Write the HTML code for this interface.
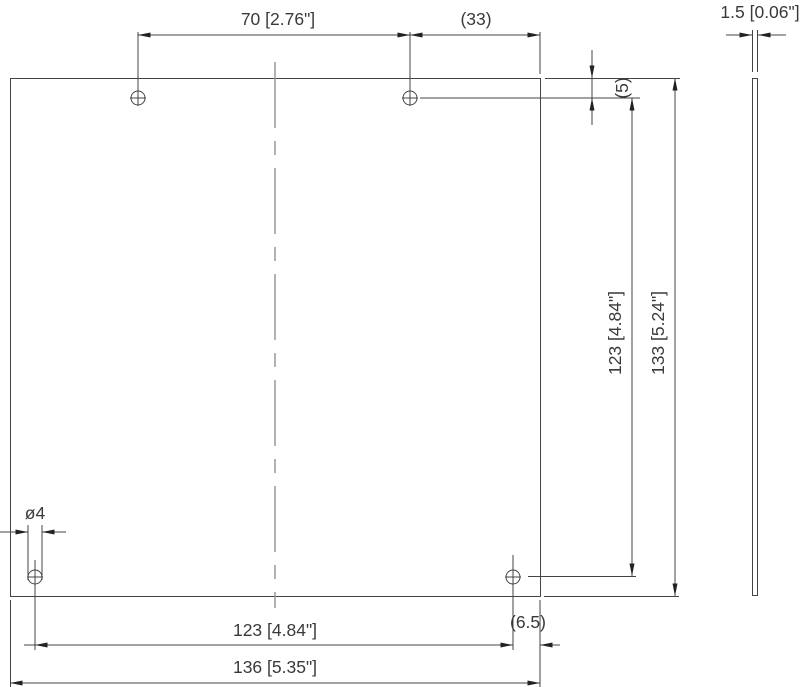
<!DOCTYPE html>
<html><head><meta charset="utf-8"><style>
html,body{margin:0;padding:0;background:#fff;}
svg{display:block;}
text{font-family:"Liberation Sans",sans-serif;font-size:17.5px;fill:#3a3a3a;}
</style></head><body>
<svg width="800" height="687" viewBox="0 0 800 687" xmlns="http://www.w3.org/2000/svg">
<defs>
<marker id="a" viewBox="0 0 10 4" refX="10" refY="2" markerWidth="14" markerHeight="5" markerUnits="userSpaceOnUse" orient="auto-start-reverse"><path d="M0,0 L10,2 L0,4 Z" fill="#222"/></marker>
</defs>
<g stroke="#444" stroke-width="1" fill="none">
<rect x="10.5" y="78.5" width="530" height="518"/>
<line x1="275" y1="62" x2="275" y2="608" stroke="#999" stroke-width="1.5" stroke-dasharray="66 13 14 13"/>
<circle cx="138" cy="98" r="7"/><circle cx="410" cy="98" r="7"/>
<circle cx="35" cy="577" r="7"/><circle cx="513" cy="577" r="7"/>
<line x1="138" y1="32" x2="138" y2="106"/><line x1="130" y1="98" x2="146" y2="98"/>
<line x1="410" y1="32" x2="410" y2="106"/><line x1="402" y1="98" x2="418" y2="98"/>
<line x1="35" y1="560" x2="35" y2="650"/><line x1="27" y1="577" x2="43" y2="577"/>
<line x1="513" y1="555" x2="513" y2="650"/><line x1="505" y1="577" x2="521" y2="577"/>
<line x1="138" y1="35" x2="410" y2="35" marker-start="url(#a)" marker-end="url(#a)"/>
<line x1="410" y1="35" x2="540" y2="35" marker-start="url(#a)" marker-end="url(#a)"/>
<line x1="540" y1="32" x2="540" y2="74"/>
<line x1="545" y1="78.5" x2="680" y2="78.5"/>
<line x1="420" y1="98" x2="640" y2="98"/>
<line x1="528" y1="576.5" x2="636" y2="576.5"/>
<line x1="544" y1="596.5" x2="679" y2="596.5"/>
<line x1="592" y1="50" x2="592" y2="78" marker-end="url(#a)"/>
<line x1="592" y1="125" x2="592" y2="98" marker-end="url(#a)"/>
<line x1="592" y1="78" x2="592" y2="98"/>
<line x1="632" y1="98" x2="632" y2="576" marker-start="url(#a)" marker-end="url(#a)"/>
<line x1="675" y1="78" x2="675" y2="596" marker-start="url(#a)" marker-end="url(#a)"/>
<rect x="752.5" y="78.5" width="5" height="517"/>
<line x1="752.5" y1="30" x2="752.5" y2="72"/><line x1="757.5" y1="30" x2="757.5" y2="72"/>
<line x1="726" y1="35" x2="752" y2="35" marker-end="url(#a)"/>
<line x1="786" y1="35" x2="758" y2="35" marker-end="url(#a)"/>
<line x1="28" y1="525" x2="28" y2="580"/><line x1="42" y1="525" x2="42" y2="580"/>
<line x1="0" y1="532" x2="28" y2="532" marker-end="url(#a)"/>
<line x1="66" y1="532" x2="42" y2="532" marker-end="url(#a)"/>
<line x1="35" y1="645" x2="513" y2="645" marker-start="url(#a)" marker-end="url(#a)"/>
<line x1="24" y1="645" x2="35" y2="645"/>
<line x1="540" y1="600" x2="540" y2="687"/>
<line x1="10.5" y1="600" x2="10.5" y2="687"/>
<line x1="560" y1="645" x2="540" y2="645" marker-end="url(#a)"/>
<line x1="10" y1="683" x2="540" y2="683" marker-start="url(#a)" marker-end="url(#a)"/>
</g>
<text x="278" y="25" text-anchor="middle">70 [2.76"]</text>
<text x="476" y="25" text-anchor="middle">(33)</text>
<text x="760" y="18" text-anchor="middle">1.5 [0.06"]</text>
<text x="35" y="519" text-anchor="middle">ø4</text>
<text x="275" y="636" text-anchor="middle">123 [4.84"]</text>
<text x="275" y="673" text-anchor="middle">136 [5.35"]</text>
<text x="528" y="628" text-anchor="middle">(6.5)</text>
<text transform="translate(628,88) rotate(-90)" text-anchor="middle">(5)</text>
<text transform="translate(621,333) rotate(-90)" text-anchor="middle">123 [4.84"]</text>
<text transform="translate(664,333) rotate(-90)" text-anchor="middle">133 [5.24"]</text>
</svg>
</body></html>
